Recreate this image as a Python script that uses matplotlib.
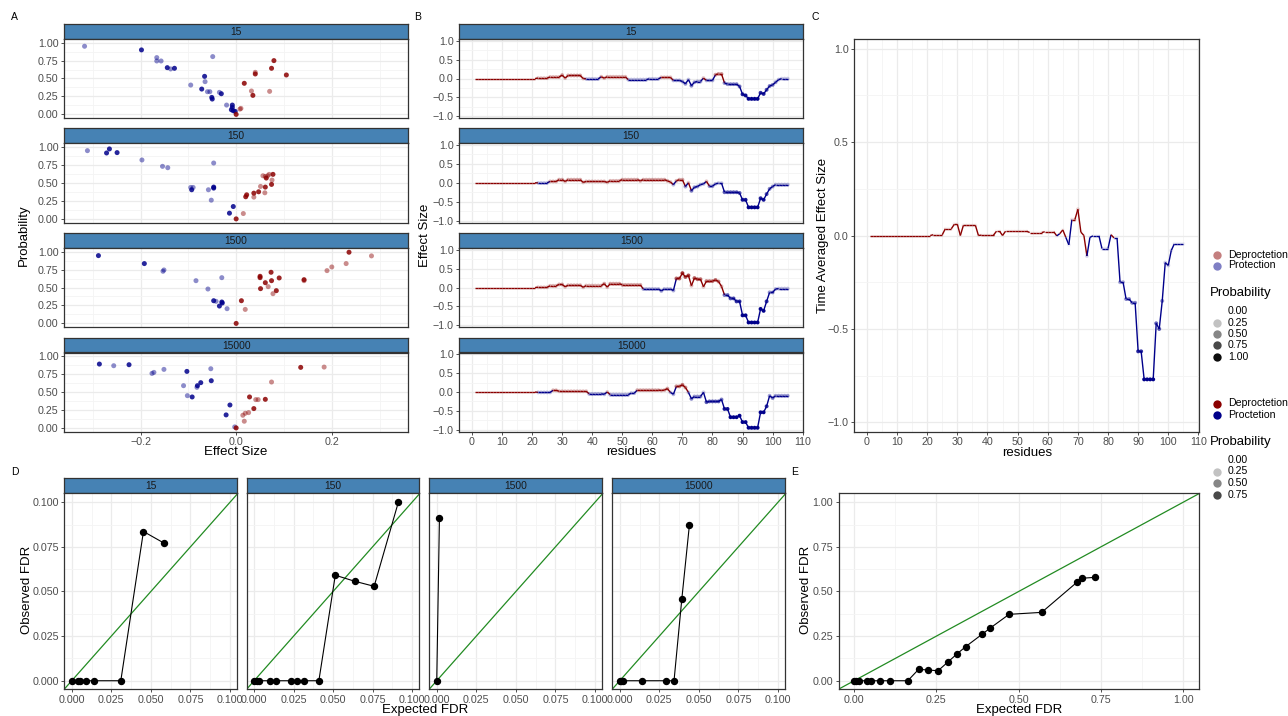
import numpy as np
import matplotlib
matplotlib.use('Agg')
import matplotlib.pyplot as plt
from matplotlib.collections import LineCollection
from matplotlib.colors import to_rgba

plt.rcParams['font.family'] = ['Liberation Sans', 'DejaVu Sans']

W, H = 1288, 716
RED = '#8b0000'
BLUE = '#00008b'
GREEN = '#228b22'
STRIP = '#4682b4'
BORDER = '#333333'
TICKC = '#4d4d4d'

facets = ['15', '150', '1500', '15000']

# ---- panel A: effect size vs probability (dark = high shade level)
a_effect = {
    '15': [-0.317, -0.198, -0.166, -0.166, -0.157, -0.144, -0.137, -0.129, -0.049, -0.095,
           -0.066, -0.065, -0.072, -0.060, -0.055, -0.035, -0.031, -0.051, -0.050, -0.020,
           -0.008, -0.008, -0.010, -0.006, -0.002,
           0.0, 0.008, 0.010, 0.017, 0.032, 0.035, 0.040, 0.040, 0.070, 0.074, 0.079, 0.105],
    '150': [-0.311, -0.271, -0.265, -0.249, -0.197, -0.154, -0.143, -0.047, -0.095, -0.090,
            -0.093, -0.058, -0.047, -0.047, -0.052, -0.006, -0.014,
            0.0, 0.015, 0.020, 0.022, 0.037, 0.037, 0.047, 0.051, 0.056, 0.061, 0.063, 0.066,
            0.069, 0.061, 0.060, 0.074, 0.075, 0.077],
    '1500': [-0.288, -0.192, -0.153, -0.151, -0.084, -0.059, -0.030, -0.047, -0.042, -0.030,
             -0.029, -0.035, -0.019,
             0.0, 0.011, 0.019, 0.050, 0.050, 0.051, 0.061, 0.073, 0.067, 0.074, 0.077, 0.084,
             0.090, 0.142, 0.142, 0.190, 0.200, 0.230, 0.236, 0.283],
    '15000': [-0.286, -0.256, -0.224, -0.176, -0.172, -0.151, -0.103, -0.053, -0.110, -0.102,
              -0.092, -0.081, -0.082, -0.074, -0.052, -0.013, -0.021, -0.003,
              0.0, 0.017, 0.014, 0.019, 0.026, 0.028, 0.037, 0.041, 0.046, 0.061, 0.074, 0.135, 0.184],
}
a_prob = {
    '15': [0.949, 0.898, 0.791, 0.744, 0.744, 0.651, 0.633, 0.642, 0.805, 0.409,
           0.530, 0.456, 0.353, 0.316, 0.316, 0.307, 0.288, 0.237, 0.214, 0.130,
           0.130, 0.098, 0.065, 0.051, 0.042,
           0.0, 0.074, 0.084, 0.433, 0.326, 0.265, 0.586, 0.563, 0.321, 0.642, 0.749, 0.549],
    '150': [0.944, 0.912, 0.968, 0.917, 0.815, 0.727, 0.708, 0.773, 0.435, 0.435,
            0.403, 0.403, 0.440, 0.426, 0.259, 0.171, 0.079,
            0.0, 0.074, 0.306, 0.333, 0.301, 0.356, 0.375, 0.449, 0.597, 0.588, 0.565, 0.597,
            0.616, 0.440, 0.361, 0.477, 0.537, 0.616],
    '1500': [0.944, 0.833, 0.726, 0.744, 0.595, 0.479, 0.637, 0.316, 0.307, 0.298,
             0.284, 0.242, 0.205,
             0.0, 0.316, 0.195, 0.656, 0.637, 0.484, 0.567, 0.712, 0.512, 0.595, 0.414, 0.456,
             0.633, 0.595, 0.609, 0.735, 0.786, 0.833, 0.991, 0.940],
    '15000': [0.889, 0.866, 0.880, 0.759, 0.773, 0.815, 0.787, 0.824, 0.588, 0.449,
              0.431, 0.588, 0.565, 0.630, 0.657, 0.319, 0.181, 0.014,
              0.0, 0.093, 0.176, 0.204, 0.213, 0.431, 0.269, 0.394, 0.394, 0.398, 0.639, 0.843, 0.847],
}
a_dark = {
    '15': [0, 1, 0, 0, 0, 1, 0, 1, 0, 0, 1, 0, 1, 0, 0, 0, 1, 1, 1, 0, 1, 1, 1, 1, 1,
           1, 0, 0, 1, 0, 1, 0, 1, 0, 1, 1, 1],
    '150': [0, 1, 1, 1, 0, 0, 0, 0, 0, 0, 1, 0, 1, 1, 0, 1, 1,
            1, 0, 1, 1, 0, 1, 1, 0, 0, 0, 1, 0, 0, 1, 0, 1, 0, 1],
    '1500': [1, 1, 0, 0, 0, 0, 0, 1, 0, 1, 1, 1, 0,
             1, 1, 0, 1, 1, 1, 1, 1, 0, 1, 0, 1, 1, 0, 1, 0, 0, 0, 1, 0],
    '15000': [1, 0, 1, 0, 0, 0, 1, 0, 0, 0, 1, 1, 0, 1, 1, 1, 1, 0,
              1, 0, 0, 0, 0, 1, 1, 0, 0, 1, 0, 1, 0],
}

# ---- panel B / C: effect size per residue
residues = np.arange(1, 106)
first_measured = 22
b_effect = {
    '15': [0, 0, 0, 0, 0, 0, 0, 0, 0, 0, 0, 0, 0, 0, 0,
           0, 0, 0, 0, 0, 0, 0.01, 0.01, 0.01, 0.01, 0.04, 0.04, 0.04, 0.04, 0.09,
           0.01, 0.08, 0.08, 0.08, 0.08, 0.08, 0.0, -0.01, -0.01, -0.01, -0.01, -0.01, 0.045, 0.01, 0.045,
           0.045, 0.045, 0.045, 0.045, 0.045, 0.045, -0.03, -0.03, -0.03, -0.03, -0.03, -0.03, -0.03, -0.01, -0.01,
           -0.01, -0.01, 0.03, 0.03, 0.03, 0.03, -0.05, -0.05, -0.05, -0.08, -0.14, -0.03, -0.19, -0.1, -0.08,
           -0.08, 0.01, -0.05, -0.05, -0.05, 0.1, 0.12, 0.12, -0.12, -0.15, -0.15, -0.15, -0.15, -0.21, -0.42,
           -0.45, -0.54, -0.54, -0.54, -0.54, -0.38, -0.41, -0.3, -0.2, -0.17, -0.1, -0.03, -0.005, -0.005, -0.005],
    '150': [0, 0, 0, 0, 0, 0, 0, 0, 0, 0, 0, 0, 0, 0, 0,
            0, 0, 0, 0, 0, 0, -0.005, -0.005, -0.005, -0.005, 0.035, 0.035, 0.035, 0.08, 0.08,
            0.035, 0.08, 0.08, 0.08, 0.08, 0.08, 0.01, 0.035, 0.035, 0.035, 0.035, 0.035, 0.035, 0.035, 0.01,
            0.05, 0.05, 0.05, 0.05, 0.08, 0.08, 0.08, 0.08, 0.08, 0.08, 0.05, 0.08, 0.08, 0.08, 0.08,
            0.08, 0.08, 0.08, 0.08, 0.05, 0.02, -0.05, 0.05, 0.08, 0.08, -0.1, 0.0, -0.21, -0.12, -0.1,
            -0.05, -0.03, 0.035, -0.09, -0.09, -0.03, -0.01, -0.01, -0.25, -0.25, -0.25, -0.25, -0.25, -0.27, -0.45,
            -0.45, -0.65, -0.65, -0.65, -0.65, -0.41, -0.45, -0.3, -0.16, -0.1, -0.05, -0.05, -0.05, -0.05, -0.05],
    '1500': [0, 0, 0, 0, 0, 0, 0, 0, 0, 0, 0, 0, 0, 0, 0,
             0, 0, 0, 0, 0, 0, 0.005, 0.005, 0.005, 0.005, 0.045, 0.045, 0.045, 0.08, 0.08,
             0.02, 0.06, 0.06, 0.06, 0.06, 0.06, 0.005, 0.05, 0.05, 0.05, 0.05, 0.05, 0.05, 0.1, 0.01,
             0.1, 0.1, 0.1, 0.1, 0.07, 0.07, 0.07, 0.07, 0.07, 0.07, 0.07, -0.04, -0.04, -0.04, -0.04,
             -0.04, -0.04, -0.09, -0.04, -0.04, -0.04, -0.08, 0.24, 0.24, 0.38, 0.28, 0.32, 0.05, 0.25, 0.22,
             0.22, 0.02, 0.17, 0.17, 0.17, 0.2, 0.16, 0.03, -0.2, -0.2, -0.29, -0.29, -0.37, -0.37, -0.74,
             -0.74, -0.93, -0.93, -0.93, -0.93, -0.57, -0.62, -0.37, -0.13, -0.13, -0.04, -0.03, -0.03, -0.03, -0.03],
    '15000': [0, 0, 0, 0, 0, 0, 0, 0, 0, 0, 0, 0, 0, 0, 0,
              0, 0, 0, 0, 0, 0, -0.01, -0.01, -0.01, -0.01, -0.01, 0.045, 0.045, 0.02, 0.02,
              0.02, 0.02, 0.02, 0.02, 0.02, 0.02, 0.02, 0.02, -0.05, -0.05, -0.05, -0.05, -0.05, -0.06, 0.0,
              -0.07, -0.07, -0.07, -0.07, -0.07, -0.07, -0.07, -0.03, -0.03, 0.05, 0.05, 0.05, 0.05, 0.05, 0.05,
              0.05, 0.05, 0.04, 0.05, 0.09, -0.01, -0.06, 0.15, 0.15, 0.19, 0.12, -0.01, -0.18, -0.12, -0.12,
              -0.12, -0.01, -0.27, -0.25, -0.25, -0.25, -0.25, -0.2, -0.45, -0.45, -0.67, -0.67, -0.67, -0.63, -0.8,
              -0.8, -0.95, -0.95, -0.95, -0.95, -0.54, -0.54, -0.38, -0.1, -0.16, -0.1, -0.1, -0.1, -0.1, -0.1],
}
c_effect = [0, 0, 0, 0, 0, 0, 0, 0, 0, 0, 0, 0, 0, 0, 0,
            0, 0, 0, 0, 0, 0, 0.004, 0.004, 0.004, 0.004, 0.036, 0.036, 0.036, 0.06, 0.06,
            0.0, 0.054, 0.054, 0.054, 0.054, 0.054, 0.0, 0.002, 0.002, 0.002, 0.002, 0.002, 0.023, 0.023, 0.0,
            0.023, 0.023, 0.023, 0.023, 0.023, 0.023, 0.023, 0.023, 0.016, 0.016, 0.016, 0.016, 0.016, 0.02, 0.02,
            0.02, 0.02, -0.002, 0.01, 0.03, -0.01, -0.05, 0.085, 0.085, 0.14, 0.018, 0.0, -0.11, -0.01, -0.002,
            -0.002, -0.002, -0.07, -0.07, -0.07, 0.004, -0.013, -0.013, -0.25, -0.25, -0.34, -0.34, -0.36, -0.36, -0.62,
            -0.62, -0.77, -0.77, -0.77, -0.77, -0.47, -0.5, -0.35, -0.145, -0.16, -0.08, -0.045, -0.045, -0.045, -0.045]

# ---- panel D / E: expected vs observed FDR
d_expected = {
    '15': [0, 0.004, 0.0055, 0.009, 0.0143, 0.031, 0.0453, 0.0581],
    '150': [0, 0.0017, 0.0034, 0.0101, 0.0139, 0.0232, 0.0274, 0.0318, 0.041, 0.0514, 0.0638, 0.076, 0.0914],
    '1500': [0, 0.0017],
    '15000': [0, 0.0008, 0.0023, 0.0143, 0.029, 0.0343, 0.0392, 0.0440],
}
d_observed = {
    '15': [0, 0, 0, 0, 0, 0, 0.0836, 0.0772],
    '150': [0, 0, 0, 0, 0, 0, 0, 0, 0, 0.0591, 0.0557, 0.0529, 0.1002],
    '1500': [0, 0.091],
    '15000': [0, 0, 0, 0, 0, 0, 0.0456, 0.0871],
}
e_expected = [0, 0.007, 0.014, 0.04, 0.05, 0.08, 0.108, 0.163, 0.196, 0.225, 0.255,
              0.285, 0.313, 0.339, 0.39, 0.412, 0.471, 0.57, 0.678, 0.691, 0.731]
e_observed = [0, 0, 0, 0, 0, 0, 0, 0, 0.064, 0.06, 0.056,
              0.105, 0.151, 0.191, 0.262, 0.293, 0.372, 0.383, 0.553, 0.574, 0.579]

fig = plt.figure(figsize=(W / 100, H / 100), dpi=100)


def px_axes(l, t, r, b):
    return fig.add_axes([l / W, 1 - b / H, (r - l) / W, (b - t) / H])


def ftext(x, y, s, **kw):
    kw.setdefault('ha', 'center')
    kw.setdefault('va', 'center')
    fig.text(x / W, 1 - y / H, s, **kw)


def fmt(vals, nd):
    return [f'{v:.{nd}f}'.replace('-', '\u2212') for v in vals]


def frame(ax, xlim, ylim, xmaj, xmin, ymaj, ymin, xnd, ynd, show_x=True, show_y=True):
    ax.set_xlim(*xlim)
    ax.set_ylim(*ylim)
    ax.set_xticks(xmaj, fmt(xmaj, xnd) if xnd is not None else [str(int(v)) for v in xmaj])
    ax.set_xticks(xmin, minor=True)
    ax.set_yticks(ymaj, fmt(ymaj, ynd))
    ax.set_yticks(ymin, minor=True)
    ax.grid(which='major', color='#ebebeb', lw=0.9)
    ax.grid(which='minor', color='#f4f4f4', lw=0.6)
    ax.set_axisbelow(True)
    for s in ax.spines.values():
        s.set_color(BORDER)
        s.set_linewidth(0.9)
    ax.tick_params(which='major', length=2.5, width=0.6, color=BORDER, labelsize=7.7,
                   labelcolor=TICKC, pad=1.5)
    ax.tick_params(which='minor', length=0)
    if not show_x:
        ax.tick_params(axis='x', bottom=False, labelbottom=False)
    if not show_y:
        ax.tick_params(axis='y', left=False, labelleft=False)


def strip(l, t, r, b, text):
    ax = px_axes(l, t, r, b)
    ax.set_facecolor(STRIP)
    ax.set_xticks([])
    ax.set_yticks([])
    for s in ax.spines.values():
        s.set_color(BORDER)
        s.set_linewidth(0.9)
    ax.text(0.5, 0.45, text, transform=ax.transAxes, ha='center', va='center',
            fontsize=7.4, color='#1a1a1a')


def sign_colors(vals, alphas):
    return [to_rgba(RED if v >= 0 else BLUE, a) for v, a in zip(vals, alphas)]


def sign_line(ax, x, y):
    pts = np.column_stack([x, y])
    segs = np.stack([pts[:-1], pts[1:]], axis=1)
    cols = [RED if v >= 0 else BLUE for v in y[:-1]]
    ax.add_collection(LineCollection(segs, colors=cols, linewidths=1.0, zorder=2))


rows = [(23.5, 39, 118), (127.5, 143, 222.5), (232.5, 248, 327), (337.5, 352.5, 431.5)]

# panel A
for i, key in enumerate(facets):
    st, pt, pb = rows[i]
    strip(64, st, 408.3, pt, key)
    ax = px_axes(64, pt, 408.3, pb)
    frame(ax, (-0.36, 0.36), (-0.05, 1.05), [-0.2, 0.0, 0.2], [-0.3, -0.1, 0.1, 0.3],
          [0, 0.25, 0.5, 0.75, 1.0], [0.125, 0.375, 0.625, 0.875], 1, 2, show_x=(i == 3))
    eff = a_effect[key]
    alphas = [0.85 if d else 0.45 for d in a_dark[key]]
    ax.scatter(eff, a_prob[key], s=13, c=sign_colors(eff, alphas), linewidths=0, zorder=3)

# panel B
for i, key in enumerate(facets):
    st, pt, pb = rows[i]
    strip(459.3, st, 803.3, pt, key)
    ax = px_axes(459.3, pt, 803.3, pb)
    frame(ax, (-4.2, 110.2), (-1.05, 1.05), list(range(0, 111, 10)), list(range(5, 110, 10)),
          [-1.0, -0.5, 0.0, 0.5, 1.0], [-0.75, -0.25, 0.25, 0.75], None, 1, show_x=(i == 3))
    y = np.array(b_effect[key])
    sign_line(ax, residues, y)
    m = residues >= first_measured
    alphas = np.clip(0.2 + np.abs(y[m]) * 1.6, 0, 1)
    ax.scatter(residues[m], y[m], s=8, c=sign_colors(y[m], alphas), linewidths=0, zorder=3)

# panel C
ax = px_axes(854.3, 39.3, 1199, 431.7)
frame(ax, (-4.2, 110.2), (-1.05, 1.05), list(range(0, 111, 10)), list(range(5, 110, 10)),
      [-1.0, -0.5, 0.0, 0.5, 1.0], [-0.75, -0.25, 0.25, 0.75], None, 1)
yc = np.array(c_effect)
sign_line(ax, residues, yc)
m = residues >= first_measured
alphas = np.clip(np.abs(yc[m]) * 1.3, 0.03, 1)
ax.scatter(residues[m], yc[m], s=8, c=sign_colors(yc[m], alphas), linewidths=0, zorder=3)

# panel D
d_cols = [(64.3, 237.3), (246.7, 419.3), (429.3, 602.3), (612.3, 785.3)]
fdr_ticks = [0, 0.025, 0.05, 0.075, 0.1]
fdr_minor = [0.0125, 0.0375, 0.0625, 0.0875]
for i, key in enumerate(facets):
    l, r = d_cols[i]
    strip(l, 477.7, r, 493.3, key)
    ax = px_axes(l, 493.3, r, 689.3)
    frame(ax, (-0.0047, 0.1046), (-0.0048, 0.105), fdr_ticks, fdr_minor,
          fdr_ticks, fdr_minor, 3, 3, show_y=(i == 0))
    ax.axline((0, 0), slope=1, color=GREEN, lw=0.9, zorder=2)
    ax.plot(d_expected[key], d_observed[key], color='black', lw=0.8, marker='o',
            ms=4.3, zorder=3, clip_on=False)

# panel E
ax = px_axes(838.7, 493.3, 1199.3, 689.3)
e_ticks = [0, 0.25, 0.5, 0.75, 1.0]
e_minor = [0.125, 0.375, 0.625, 0.875]
frame(ax, (-0.047, 1.049), (-0.048, 1.05), e_ticks, e_minor, e_ticks, e_minor, 2, 2)
ax.axline((0, 0), slope=1, color=GREEN, lw=0.9, zorder=2)
ax.plot(e_expected, e_observed, color='black', lw=0.8, marker='o', ms=4.3, zorder=3)

# axis titles and panel letters
ftext(236, 452, 'Effect Size', fontsize=9.5)
ftext(631, 452, 'residues', fontsize=9.5)
ftext(1027, 453, 'residues', fontsize=9.5)
ftext(24, 235, 'Probability', fontsize=9.5, rotation=90)
ftext(425, 235, 'Effect Size', fontsize=9.5, rotation=90)
ftext(823, 235, 'Time Averaged Effect Size', fontsize=9.5, rotation=90)
ftext(27, 590, 'Observed FDR', fontsize=9.5, rotation=90)
ftext(806, 590, 'Observed FDR', fontsize=9.5, rotation=90)
ftext(425, 710, 'Expected FDR', fontsize=9.5)
ftext(1019, 710, 'Expected FDR', fontsize=9.5)
for letter, x, y in [('A', 14, 17), ('B', 418, 17), ('C', 815, 17), ('D', 15, 472), ('E', 795, 472)]:
    ftext(x, y, letter, fontsize=7.5)

# legends
leg = fig.add_axes([0, 0, 1, 1])
leg.set_xlim(0, W)
leg.set_ylim(H, 0)
leg.axis('off')
leg.patch.set_alpha(0)


def key_row(y, color, alpha, text):
    leg.scatter([1217], [y], s=36, color=to_rgba(color, alpha), linewidths=0)
    ftext(1228, y, text, fontsize=7.6, ha='left')


key_row(254.5, RED, 0.5, 'Deproctetion')
key_row(265.5, BLUE, 0.5, 'Protection')
ftext(1210, 292.5, 'Probability', fontsize=9.5, ha='left')
for y, v in zip([311.5, 322.5, 334, 345, 357], [0.0, 0.25, 0.5, 0.75, 1.0]):
    key_row(y, 'black', v * 0.95, f'{v:.2f}')

key_row(403.5, RED, 1.0, 'Deproctetion')
key_row(414.5, BLUE, 1.0, 'Proctetion')
ftext(1210, 441.5, 'Probability', fontsize=9.5, ha='left')
for y, v in zip([460, 471.5, 483, 494.5], [0.0, 0.25, 0.5, 0.75]):
    key_row(y, 'black', v * 0.95, f'{v:.2f}')

fig.savefig('out.png', dpi=100)
